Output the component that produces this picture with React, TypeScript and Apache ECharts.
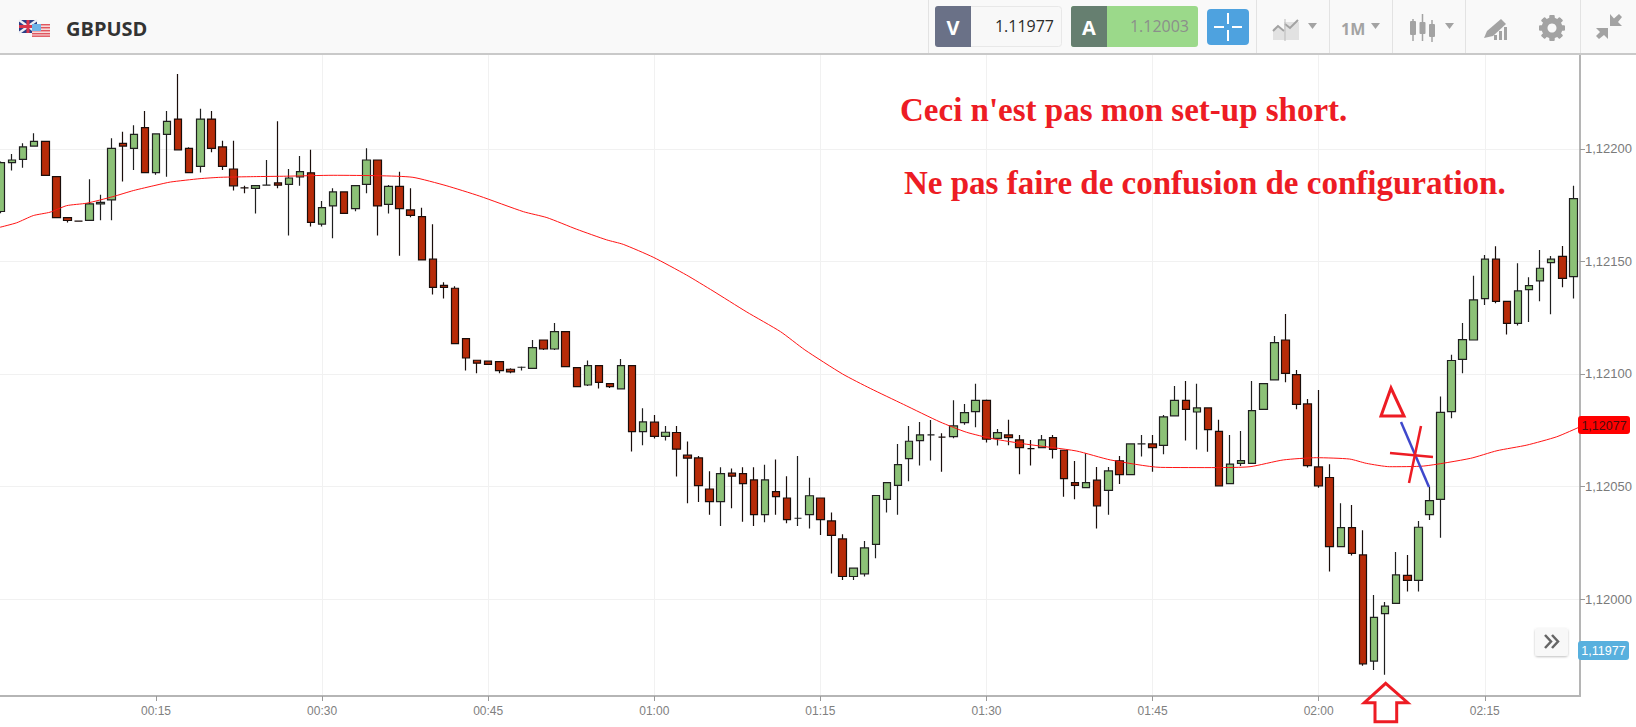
import React, { useEffect, useRef } from "react";
import * as echarts from "echarts";

// Prices are stored as offsets from 1.12000, in units of 0.00001. Index 0 is minute 00:01.
const BASE_PRICE = 1.12;
const minuteOfFirstCandle = 1;

const opens = [
  172.2, 193.9, 195.4, 201.3, 203.4, 187.7, 169.5, 167.9, 168.3, 175.6,
  177.4, 202.5, 200.3, 209.5, 189.5, 206.5, 213.3, 200.3, 192.3, 213.3,
  200.9, 191.1, 182.7, 182.5, 183.9, 184.9, 184.3, 187.6, 189.4, 166.6,
  174.7, 180.9, 173.5, 184.3, 195.1, 175.4, 183.4, 172.9, 169.9, 151,
  139.4, 138.1, 115.7, 106.1, 105.7, 105.5, 102.1, 103, 102.5, 115.1,
  111.1, 118.8, 102.8, 95.1, 103.7, 95.7, 93.4, 103.7, 74.4, 78.6,
  72.3, 74, 63.9, 62.7, 48.9, 43.3, 55.9, 55.7, 52.9, 37.5,
  47.7, 44.9, 35.9, 37.5, 44.9, 34.7, 26.7, 10, 11.2, 24.3,
  44.3, 50.5, 62.4, 70.4, 72.9, 71.9, 72.2, 78.4, 83.3, 88.3,
  71.4, 72.9, 70.7, 66.8, 67.3, 71.7, 66.1, 51.7, 49.5, 52.8,
  48.3, 61.4, 55.3, 68.9, 68.9, 68.3, 81.4, 88.3, 83.1, 84.9,
  74.5, 51.3, 60.3, 60.3, 84.3, 97.4, 115.1, 99.7, 86.7, 58.7,
  54, 23.3, 31.7, 19.6, -27.6, -6.5, -1.9, 10.5, 8.3, 37.5,
  44.3, 83.3, 106.5, 115.1, 133.5, 151, 132.3, 122.5, 137.5, 141.4,
  149.5, 152.3, 143.3,
];
const closes = [
  193.9, 195.1, 200.9, 203.4, 188.3, 169.5, 168.2, 167.9, 175.6, 176.3,
  200.3, 201.3, 206.5, 189.5, 206.7, 212.3, 199.6, 189.5, 213.3, 200.3,
  192.3, 183.6, 182.7, 183.7, 183.9, 183.9, 187.1, 189.9, 167.4, 173.9,
  180.9, 171.4, 183.7, 195.1, 174.7, 183.4, 173.5, 170.5, 150.7, 138.5,
  138.5, 113.5, 107.1, 104.8, 104.3, 101.5, 100.9, 103, 111.7, 111.1,
  118.8, 103.3, 94.4, 103.7, 96.3, 94.4, 103.7, 74.4, 78.7, 72.3,
  74.1, 66.6, 62.6, 50.4, 43.3, 55.7, 54.6, 51.3, 37.5, 52.9,
  45.5, 35.3, 35.9, 45.9, 35.3, 28.3, 10, 13.7, 22.7, 46,
  51.7, 59.7, 70.1, 72.9, 72.9, 71.9, 76.9, 82.8, 88.3, 71,
  73.9, 71.7, 67.3, 66.8, 70.7, 66.5, 53.5, 50.5, 51.7, 41.4,
  56.9, 55.3, 68.9, 68.9, 67.3, 80.9, 88.3, 84.3, 84.9, 75.3,
  50.3, 59.9, 61.5, 83.7, 95.7, 113.9, 100.3, 86.5, 59.3, 50.3,
  23.3, 31.7, 20.3, -28.8, -8.2, -3.2, 10.7, 8.3, 31.9, 43.7,
  82.9, 106, 115.3, 132.9, 151, 132.3, 122.5, 136.9, 139.3, 147,
  151, 142.5, 177.9,
];
const lows = [
  171.4, 190.4, 191.6, 201.1, 188.3, 169.5, 167.3, 167.9, 168.3, 168.3,
  168.3, 185.5, 190.6, 189.5, 188.5, 187.7, 199.6, 189.5, 189.5, 198.5,
  190.6, 181.5, 180.3, 171.3, 183.9, 182.5, 161.5, 183.7, 165.5, 165.5,
  160.3, 171.4, 172.3, 180.3, 161.5, 171.3, 152.5, 169.6, 150.7, 135.3,
  133.5, 113.5, 101.5, 100.3, 104.2, 100.3, 100.3, 101.5, 102.5, 110.7,
  110.7, 103.3, 94.4, 94.7, 93.5, 93.8, 93.4, 65.5, 68.3, 71.3,
  70.4, 54.4, 42.6, 43.1, 37.5, 32.5, 40.3, 34.3, 32.5, 34.1,
  37.5, 33.7, 32.5, 31.3, 28.5, 11.3, 8.5, 8.5, 10, 18.1,
  38.4, 37.5, 52.3, 59.3, 61.5, 56.5, 71.4, 77.4, 76.3, 69.5,
  68.2, 68.3, 55.4, 59.3, 67, 62.4, 45.5, 44.3, 49.2, 31.3,
  37.5, 51.1, 55.3, 63.3, 56.5, 64.3, 81.4, 70.4, 66.4, 65.4,
  50.3, 51.3, 59.1, 60.3, 84.3, 97.4, 96.3, 84.3, 58.4, 49.5,
  12.2, 23.3, 19.3, -29.7, -31.5, -33.7, -1.9, 3.3, 3.3, 35.1,
  27.2, 80.3, 100.3, 115.1, 130.7, 131.4, 117.5, 121.5, 123.1, 132.3,
  126.5, 138.5, 133.5,
];
const highs = [
  194.4, 197.8, 202.5, 207, 203.4, 187.7, 169.5, 167.9, 186.5, 179.6,
  204.8, 207.7, 210.5, 216.9, 207, 216.9, 233.3, 200.8, 217.9, 216.9,
  203.6, 203.6, 183.7, 183.7, 195.1, 212.3, 191.1, 196.9, 199.6, 176.9,
  182.5, 180.9, 183.7, 200.3, 195.1, 184, 189.9, 182.5, 173.9, 166.5,
  140.8, 139, 115.7, 106.1, 106, 105.5, 102.5, 103.3, 115.1, 115.1,
  122.7, 118.8, 102.8, 106, 103.7, 95.7, 106.7, 103.7, 84.8, 81.8,
  76.9, 76.9, 70, 63.6, 56.8, 58.5, 58, 58.5, 58.5, 59.7,
  62, 54.5, 63.6, 53.9, 44.9, 38.5, 28.8, 13.7, 25.8, 46,
  51.7, 68.9, 76.9, 78.7, 79.6, 73.7, 88.3, 86.7, 95.7, 88.7,
  75.6, 79.7, 72.9, 70.7, 72.9, 72.9, 66.1, 61.3, 64.8, 58.7,
  58.7, 63.6, 68.9, 72.9, 72.9, 81.8, 94.7, 96.9, 95.7, 84.9,
  79.7, 72.9, 74.7, 96.9, 95.7, 116.9, 126.7, 101.8, 88.9, 92.9,
  59.9, 42.6, 41.8, 30.6, 1.8, -1.3, 20.9, 19.6, 34.7, 49.9,
  90, 108.5, 122.7, 143.7, 152.9, 156.8, 132.3, 149.2, 143, 155.1,
  152.4, 156.9, 183.7,
];

// Moving average at these minutes
const maMinutes = [
  0.91, 2.42, 3.92, 5.43, 6.93, 8.74, 11.1, 12.95, 15, 16.3, 18.97, 20.8, 23.8, 26.8, 31, 35.2, 38.2, 41.2,
  44.2, 48.2, 50.3, 53, 55.7, 57.2, 59.9, 62.9, 65.3, 68.3, 71.4, 73.6, 77, 79.5, 82.5, 85.8, 88.2, 90.6,
  93.6, 98.1, 101.2, 105.7, 110.8, 113.8, 116.8, 119.8, 122.8, 124.3, 126.4, 129.5, 133.7, 136.1, 138.8, 141.5, 143.5,
];
const maValues = [
  165.2, 167.2, 170.4, 171.9, 174.8, 175.9, 178.8, 181.5, 183.9, 185.3, 186.8, 187.4, 187.7, 187.9, 188.3, 188.1, 187.4, 183.7,
  179.1, 172.1, 169.5, 164.3, 159.6, 157.6, 151.9, 144, 136.9, 127.7, 118.8, 110.7, 100, 93.6, 86.5, 78.7, 74.1, 71.2,
  68.8, 65.8, 61.8, 58.5, 58.4, 58.8, 61.8, 62.8, 62.2, 60.3, 58.8, 59.1, 62.5, 65.9, 68.4, 72.1, 76.3,
];

const yTickValues = [1.12, 1.1205, 1.121, 1.1215, 1.122];
const xTickMinutes = [15, 30, 45, 60, 75, 90, 105, 120, 135];

const title = "GBPUSD";
const sellLabel = "V";
const sellPrice = "1.11977";
const buyLabel = "A";
const buyPrice = "1.12003";
const periodLabel = "1M";
const noteLine1 = "Ceci n'est pas mon set-up short.";
const noteLine2 = "Ne pas faire de confusion de configuration.";
const maTag = "1,12077";
const priceTag = "1,11977";

const toPrice = (n: number) => +(BASE_PRICE + n / 100000).toFixed(6);
const fmtMinute = (m: number) => {
  const h = Math.floor(m / 60);
  const mm = m % 60;
  return `${String(h).padStart(2, "0")}:${String(mm).padStart(2, "0")}`;
};

const UI_GRAY = "#a3a3a3";
const INK = "#ed1c24";
const SANS = "Liberation Sans, Arial, sans-serif";

function vLine(x: number, y1: number, y2: number, stroke: string, lineWidth = 1, z = 20) {
  return { type: "line", z, shape: { x1: x, y1, x2: x, y2 }, style: { stroke, lineWidth } };
}
function seg(x1: number, y1: number, x2: number, y2: number, stroke: string, lineWidth = 1, z = 20) {
  return { type: "line", z, shape: { x1, y1, x2, y2 }, style: { stroke, lineWidth } };
}
function box(x: number, y: number, width: number, height: number, fill: string, r: any = 0, z = 20, extra: any = {}) {
  return { type: "rect", z, shape: { x, y, width, height, r }, style: { fill, ...extra } };
}
function txt(x: number, y: number, text: string, fill: string, font: string, textAlign = "left", z = 21) {
  return { type: "text", z, style: { x, y, text, fill, font, textAlign, textVerticalAlign: "middle" } };
}
function poly(points: number[][], fill: string, z = 21) {
  return { type: "polygon", z, shape: { points }, style: { fill } };
}

function headerElements(): any[] {
  const els: any[] = [];
  els.push(box(0, 0, 1636, 53, "#f9f9f9"));
  els.push(box(0, 53, 1636, 2, "#c9c9c9"));
  [928, 1256, 1329, 1392, 1465, 1580].forEach((x) => els.push(vLine(x + 0.5, 0, 53, "#e3e3e3")));

  // flags
  els.push(box(19, 20, 18, 13, "#2b3f86"));
  els.push(seg(19, 20, 37, 33, "#eef0f5", 2.5, 21));
  els.push(seg(37, 20, 19, 33, "#eef0f5", 2.5, 21));
  els.push(box(26.5, 20, 3, 13, "#d9364a", 0, 21));
  els.push(box(19, 25, 18, 3, "#d9364a", 0, 21));
  els.push(box(32, 24, 18, 13, "#f6dada", 0, 22));
  [24, 27, 30, 33, 35.5].forEach((y) => els.push(box(32, y, 18, 1.4, "#e0565f", 0, 23)));
  els.push(box(32, 24, 9, 7, "#6fb4e8", 0, 24));

  els.push(txt(66, 28, title, "#333333", "bold 20px 'Open Sans', sans-serif"));

  // sell box
  els.push(box(935.5, 6.5, 126, 40, "#f8f8f8", 3, 20, { stroke: "#e8e8e8", lineWidth: 1 }));
  els.push(box(935, 6, 36, 41, "#6a7187", [3, 0, 0, 3]));
  els.push(txt(953, 27, sellLabel, "#ffffff", "bold 20px 'Open Sans', sans-serif", "center"));
  els.push(txt(1054, 26, sellPrice, "#2b2b2b", "16px 'Open Sans', sans-serif", "right"));

  // buy box
  els.push(box(1071, 6, 127, 41, "#9bd98a", 3));
  els.push(box(1071, 6, 36, 41, "#667f70", [3, 0, 0, 3]));
  els.push(txt(1089, 27, buyLabel, "#ffffff", "bold 20px 'Open Sans', sans-serif", "center"));
  els.push(txt(1189, 26, buyPrice, "#8b8f8b", "16px 'Open Sans', sans-serif", "right"));

  // crosshair button
  els.push(box(1207, 9, 42, 36, "#4ea2df", 4));
  els.push(box(1227, 13, 2, 11, "#ffffff", 0, 21));
  els.push(box(1227, 30, 2, 11, "#ffffff", 0, 21));
  els.push(box(1214, 26, 10, 2, "#ffffff", 0, 21));
  els.push(box(1232, 26, 10, 2, "#ffffff", 0, 21));

  // chart type icon
  els.push(poly([[1273, 40], [1273, 29], [1278, 25], [1284, 31], [1284, 22], [1299, 22], [1299, 40]], "#e2e2e2"));
  els.push({ type: "polyline", z: 22, shape: { points: [[1273, 31], [1278, 26], [1284, 31]] }, style: { stroke: UI_GRAY, lineWidth: 2, fill: "none" } });
  els.push({ type: "polyline", z: 22, shape: { points: [[1285, 24], [1290, 28], [1298, 20]] }, style: { stroke: UI_GRAY, lineWidth: 2, fill: "none" } });
  els.push(vLine(1285, 19, 41, "#bbbbbb", 1, 22));
  els.push(poly([[1308, 23], [1317, 23], [1312.5, 29]], UI_GRAY));

  // period
  els.push(txt(1341, 29, periodLabel, UI_GRAY, "bold 16px 'Open Sans', sans-serif"));
  els.push(poly([[1371, 23], [1380, 23], [1375.5, 29]], UI_GRAY));

  // candles icon
  els.push(vLine(1413, 19, 41, UI_GRAY, 1.5));
  els.push(box(1410, 21, 6, 14, UI_GRAY, 1, 21));
  els.push(vLine(1422.5, 14, 41, UI_GRAY, 1.5));
  els.push(box(1419.5, 22, 6, 12, UI_GRAY, 1, 21));
  els.push(vLine(1432, 20, 42, UI_GRAY, 1.5));
  els.push(box(1429, 24, 6, 13, UI_GRAY, 1, 21));
  els.push(poly([[1445, 23], [1454, 23], [1449.5, 29]], UI_GRAY));

  // drawing icon
  els.push(poly([[1484, 38], [1487, 31], [1501, 19], [1506, 24], [1493, 36]], UI_GRAY));
  els.push(box(1494, 35, 3, 5, UI_GRAY, 0, 21));
  els.push(box(1499, 31, 3, 9, UI_GRAY, 0, 21));
  els.push(box(1504, 27, 3, 13, UI_GRAY, 0, 21));

  // gear
  for (let i = 0; i < 8; i++) {
    els.push({ type: "rect", z: 21, x: 1552, y: 28, rotation: (i * Math.PI) / 4, shape: { x: -2.5, y: -13, width: 5, height: 26, r: 1 }, style: { fill: UI_GRAY } });
  }
  els.push({ type: "ring", z: 22, shape: { cx: 1552, cy: 28, r: 10.5, r0: 4.5 }, style: { fill: UI_GRAY } });
  els.push({ type: "circle", z: 23, shape: { cx: 1552, cy: 28, r: 4.5 }, style: { fill: "#f9f9f9" } });

  // collapse icon
  els.push(poly([[1610, 14], [1610, 26], [1622, 26], [1618, 22], [1622, 17], [1619, 14], [1614, 18.5]], UI_GRAY));
  els.push(poly([[1608, 39], [1608, 28], [1596, 28], [1600, 32], [1596, 36], [1599, 39], [1604, 35]], UI_GRAY));
  return els;
}

function overlayElements(): any[] {
  const els: any[] = [];
  els.push(txt(900, 110, noteLine1, INK, "bold 33px 'Liberation Serif', serif"));
  els.push(txt(904, 183, noteLine2, INK, "bold 33px 'Liberation Serif', serif"));

  // hand-drawn marks
  els.push({ type: "polygon", z: 15, shape: { points: [[1391, 388], [1381, 416], [1404, 416]] }, style: { fill: "none", stroke: INK, lineWidth: 3 } });
  els.push(seg(1401, 422, 1429, 487, "#3f48cc", 2.5, 15));
  els.push(seg(1390, 453, 1433, 457, INK, 2.5, 15));
  els.push(seg(1421, 426, 1409, 483, INK, 2.5, 15));
  els.push({
    type: "polygon", z: 15,
    shape: { points: [[1385.7, 683.3], [1407.7, 702.7], [1396.7, 702.7], [1396.7, 721.7], [1375, 721.7], [1375, 702.7], [1364.3, 702.7]] },
    style: { fill: "none", stroke: INK, lineWidth: 3 },
  });

  // price tags
  els.push(box(1578, 416, 52, 18, "#ff0000", 3, 16));
  els.push(txt(1604, 425.5, maTag, "#4a0d0d", `12.5px ${SANS}`, "center", 17));
  els.push(box(1578, 641, 51, 19, "#58b0de", 3, 16));
  els.push(txt(1603.5, 651, priceTag, "#ffffff", `12.5px ${SANS}`, "center", 17));

  // scroll-to-end button
  els.push(box(1535, 628, 33, 28, "#f8f8f8", 3, 16, { shadowBlur: 2, shadowColor: "rgba(0,0,0,0.25)", shadowOffsetY: 1 }));
  els.push({ type: "polyline", z: 17, shape: { points: [[1545, 635], [1551, 641.5], [1545, 648]] }, style: { stroke: "#666666", lineWidth: 2.5, fill: "none" } });
  els.push({ type: "polyline", z: 17, shape: { points: [[1552, 635], [1558, 641.5], [1552, 648]] }, style: { stroke: "#666666", lineWidth: 2.5, fill: "none" } });
  return els;
}

export default function App() {
  const ref = useRef<HTMLDivElement>(null);

  useEffect(() => {
    document.body.style.margin = "0";
    document.body.style.overflow = "hidden";
    const chart = echarts.init(ref.current!, null, { renderer: "svg" });

    const candles = opens.map((o, i) => [
      minuteOfFirstCandle + i,
      toPrice(o),
      toPrice(closes[i]),
      toPrice(lows[i]),
      toPrice(highs[i]),
    ]);
    const ma = maMinutes.map((m, i) => [m, toPrice(maValues[i])]);

    chart.setOption({
      animation: false,
      backgroundColor: "#ffffff",
      grid: { left: 0, right: 56, top: 54, bottom: 31, containLabel: false },
      xAxis: {
        type: "value",
        min: 0.912,
        max: 143.6,
        axisLine: { show: true, onZero: false, lineStyle: { color: "#b5b5b5", width: 2 } },
        axisTick: { show: true, customValues: xTickMinutes, length: 5, lineStyle: { color: "#999999" } },
        axisLabel: {
          customValues: xTickMinutes,
          color: "#808080",
          fontSize: 12,
          fontFamily: SANS,
          margin: 9,
          formatter: (v: number) => fmtMinute(v),
        },
        splitLine: { show: true, showMinLine: false, lineStyle: { color: "#f1f1f1", width: 1 } },
      },
      yAxis: {
        type: "value",
        position: "right",
        min: 1.119569,
        max: 1.122422,
        axisLine: { show: true, lineStyle: { color: "#b5b5b5", width: 2 } },
        axisTick: { show: true, customValues: yTickValues, length: 5, lineStyle: { color: "#999999" } },
        axisLabel: {
          customValues: yTickValues,
          color: "#7a7a7a",
          fontSize: 13,
          fontFamily: SANS,
          margin: 5,
          formatter: (v: number) => v.toFixed(5).replace(".", ","),
        },
        splitLine: { show: true, lineStyle: { color: "#f1f1f1", width: 1 } },
      },
      series: [
        {
          type: "candlestick",
          barWidth: 8,
          z: 2,
          encode: { x: 0, y: [1, 2, 3, 4] },
          data: candles,
          itemStyle: {
            color: "#8cc177",
            color0: "#b72b08",
            borderColor: "#1f1f1f",
            borderColor0: "#1a0d0a",
            borderWidth: 1.2,
          },
        },
        {
          type: "line",
          z: 3,
          data: ma,
          showSymbol: false,
          symbol: "none",
          smooth: 0.2,
          lineStyle: { color: "#ff1414", width: 1 },
        },
      ],
      graphic: { elements: [...headerElements(), ...overlayElements()] },
    });

    return () => chart.dispose();
  }, []);

  return <div ref={ref} style={{ position: "absolute", left: 0, top: 0, width: 1636, height: 727 }} />;
}
